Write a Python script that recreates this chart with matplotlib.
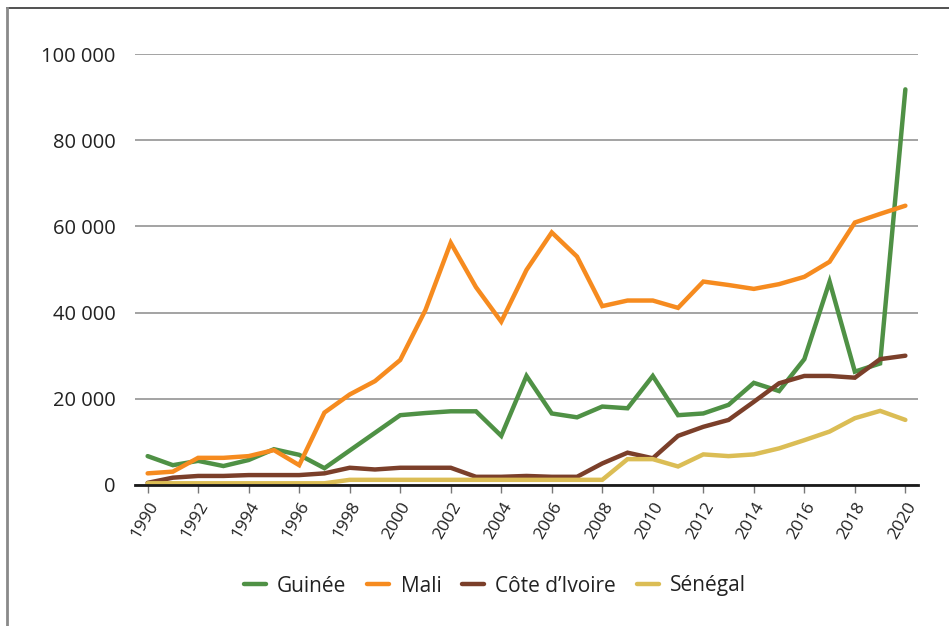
import numpy as np
import matplotlib
matplotlib.use('Agg')
import matplotlib.pyplot as plt
from matplotlib.lines import Line2D

plt.rcParams['font.family'] = ['Open Sans', 'DejaVu Sans']

# data
years = list(range(1990, 2021))
guinee = [6700, 4600, 5600, 4400, 5800, 8300, 7000, 3900, 8000, 12100,
          16200, 16700, 17100, 17100, 11400, 25300, 16600, 15700, 18200, 17800,
          25300, 16200, 16600, 18600, 23700, 21800, 29200, 47200, 26300, 28200,
          91800]
mali = [2700, 3100, 6300, 6300, 6700, 8100, 4600, 16800, 21000, 24100,
        29000, 40600, 56200, 45900, 37900, 49900, 58600, 53000, 41500, 42800,
        42800, 41100, 47200, 46400, 45500, 46600, 48300, 51800, 60900, 62900,
        64800]
cote_ivoire = [500, 1700, 2100, 2100, 2300, 2300, 2300, 2700, 4000, 3600,
               4000, 4000, 4000, 1900, 1900, 2100, 1900, 1900, 5000, 7500,
               6200, 11400, 13500, 15100, 19300, 23600, 25300, 25300, 24900, 29200,
               30000]
senegal = [400, 400, 400, 400, 400, 400, 400, 400, 1200, 1200,
           1200, 1200, 1200, 1200, 1200, 1200, 1200, 1200, 1200, 6000,
           6000, 4300, 7100, 6700, 7100, 8500, 10400, 12400, 15500, 17200,
           15100]
series_names = ['Guinée', 'Mali', 'Côte d\u2019Ivoire', 'Sénégal']
series_colors = ['#4f9145', '#f68b1f', '#7b3f2a', '#dbbd55']
y_ticks = [0, 20000, 40000, 60000, 80000, 100000]

fig = plt.figure(figsize=(9.49, 6.26), dpi=100)
ax = fig.add_axes([135/949, 1 - 485/626, (918 - 135)/949, (485 - 54)/626])

for vals, name, col in zip([guinee, mali, cote_ivoire, senegal], series_names, series_colors):
    ax.plot(years, vals, color=col, lw=3.2, label=name, solid_joinstyle='miter',
            solid_capstyle='round', zorder=3)

ax.set_xlim(1989.5, 2020.5)
ax.set_ylim(0, 100000)
ax.set_yticks(y_ticks)
ax.set_yticklabels([f'{v:,}'.replace(',', ' ') for v in y_ticks], fontsize=14.5, color='#222222')
ax.set_xticks(years[::2])
ax.set_xticklabels([str(y) for y in years[::2]], rotation=60, ha='right',
                   rotation_mode='anchor', fontsize=12.5, color='#222222')

ax.yaxis.grid(True, color='#8a8a8a', lw=1.1)
ax.set_axisbelow(True)
for s in ['top', 'right', 'left']:
    ax.spines[s].set_visible(False)
ax.spines['bottom'].set_color('#1a1a1a')
ax.spines['bottom'].set_linewidth(2)
ax.spines['bottom'].set_zorder(4)
ax.tick_params(axis='y', length=0, pad=14)
ax.tick_params(axis='x', length=6, width=1, color='#777777', pad=4)

fig.legend(loc='center', bbox_to_anchor=(495/949, 1 - 586/626), ncol=4, frameon=False,
           fontsize=15, handlelength=1.05, handletextpad=0.55, columnspacing=1.0,
           labelcolor='#222222')

# frame lines around the figure (top and left only)
fig.add_artist(Line2D([7/949, 1], [1 - 8/626, 1 - 8/626], color='#333333', lw=1.2))
fig.add_artist(Line2D([7/949, 7/949], [0, 1 - 8/626], color='#8a8a8a', lw=2))

fig.savefig('out.png', dpi=100)
